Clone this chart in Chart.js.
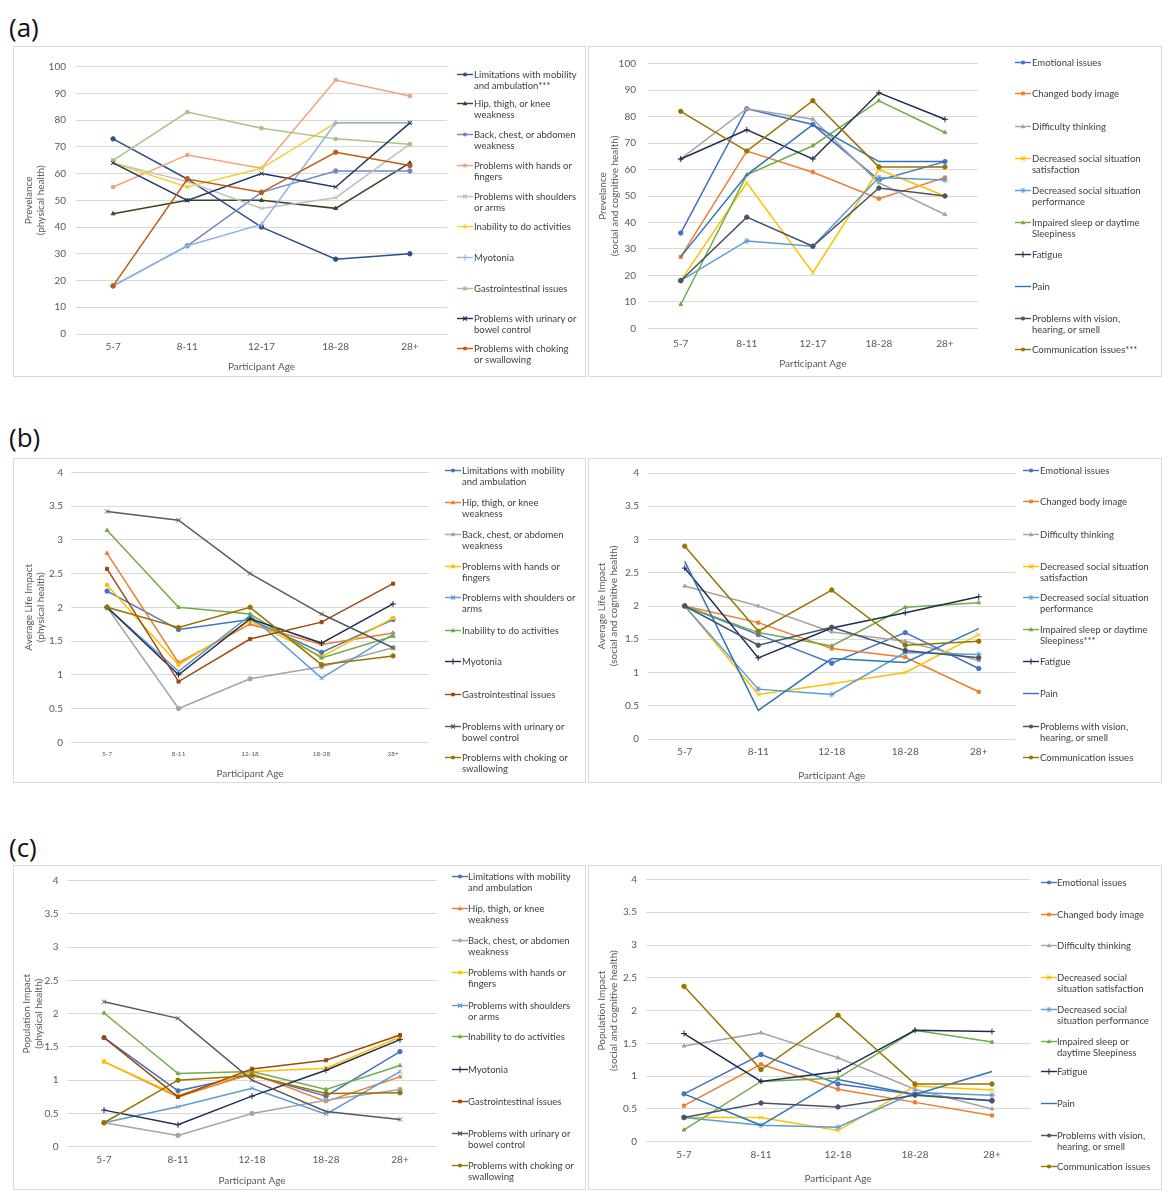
<!DOCTYPE html>
<html><head><meta charset="utf-8">
<script src="https://cdn.jsdelivr.net/npm/chart.js@4.4.1/dist/chart.umd.min.js"></script>
<style>
html,body{margin:0;padding:0;background:#fff;}
body{width:1174px;height:1200px;position:relative;overflow:hidden;font-family:Lato,'Open Sans',sans-serif;}
.panel{position:absolute;border:1px solid #d9d9d9;box-sizing:border-box;}
canvas{position:absolute;}
.lab{position:absolute;font-size:26px;color:#111;font-family:'Open Sans',sans-serif;line-height:30px;}
.leg{position:absolute;font-size:9.5px;color:#404040;line-height:11px;white-space:nowrap;}
.mk{position:absolute;line-height:0;font-size:0;}
.mk svg{display:block;}
</style>
</head><body>
<div class="lab" style="left:9px;top:12px">(a)</div>
<div class="lab" style="left:9px;top:422px">(b)</div>
<div class="lab" style="left:9px;top:832px">(c)</div>
<script>
// ---------- data ----------
const agesA = ['5-7', '8-11', '12-17', '18-28', '28+'];
const agesBC = ['5-7', '8-11', '12-18', '18-28', '28+'];

// (a) left: prevalence, physical health
const aL_limitations = [73, 58, 40, 28, 30];
const aL_hip = [45, 50, 50, 47, 64];
const aL_back = [18, 33, 53, 61, 61];
const aL_hands = [55, 67, 62, 95, 89];
const aL_shoulders = [64, 57, 47, 51, 71];
const aL_inability = [64, 55, 62, 79, 79];
const aL_myotonia = [18, 33, 41, 79, 79];
const aL_gi = [65, 83, 77, 73, 71];
const aL_urinary = [64, 50, 60, 55, 79];
const aL_choking = [18, 58, 53, 68, 63];

// (a) right: prevalence, social and cognitive health
const aR_emotional = [36, 83, 77, 56, 63];
const aR_body = [27, 67, 59, 49, 57];
const aR_thinking = [64, 83, 79, 55, 43];
const aR_satisfaction = [18, 55, 21, 60, 50];
const aR_performance = [18, 33, 31, 57, 56];
const aR_sleep = [9, 58, 69, 86, 74];
const aR_fatigue = [64, 75, 64, 89, 79];
const aR_pain = [27, 58, 77, 63, 63];
const aR_vision = [18, 42, 31, 53, 50];
const aR_communication = [82, 67, 86, 61, 61];

// (b) left: average life impact, physical health
const bL_limitations = [2.24, 1.67, 1.82, 1.33, 1.82];
const bL_hip = [2.8, 1.18, 1.75, 1.45, 1.62];
const bL_back = [2.0, 0.5, 0.94, 1.12, 1.4];
const bL_hands = [2.33, 1.15, 1.8, 1.27, 1.84];
const bL_shoulders = [2.0, 1.05, 1.88, 0.95, 1.6];
const bL_inability = [3.14, 2.0, 1.9, 1.25, 1.57];
const bL_myotonia = [2.0, 1.0, 1.83, 1.47, 2.05];
const bL_gi = [2.57, 0.9, 1.53, 1.78, 2.35];
const bL_urinary = [3.42, 3.29, 2.5, 1.9, 1.4];
const bL_choking = [2.0, 1.7, 2.0, 1.15, 1.28];

// (b) right: average life impact, social and cognitive health
const bR_emotional = [2.0, 1.57, 1.14, 1.6, 1.06];
const bR_body = [2.0, 1.75, 1.36, 1.23, 0.71];
const bR_thinking = [2.3, 2.0, 1.61, 1.47, 1.18];
const bR_satisfaction = [2.0, 0.67, 0.83, 1.0, 1.57];
const bR_performance = [2.0, 0.75, 0.67, 1.3, 1.27];
const bR_sleep = [2.0, 1.6, 1.4, 1.98, 2.05];
const bR_fatigue = [2.57, 1.22, 1.67, 1.9, 2.14];
const bR_pain = [2.67, 0.43, 1.21, 1.15, 1.66];
const bR_vision = [2.0, 1.41, 1.68, 1.33, 1.22];
const bR_communication = [2.9, 1.62, 2.24, 1.41, 1.47];

// (c) left: population impact, physical health
const cL_limitations = [1.64, 0.84, 1.08, 0.76, 1.43];
const cL_hip = [1.28, 0.75, 1.1, 0.68, 1.05];
const cL_back = [0.36, 0.17, 0.5, 0.7, 0.86];
const cL_hands = [1.28, 0.77, 1.13, 1.18, 1.65];
const cL_shoulders = [0.36, 0.6, 0.88, 0.49, 1.13];
const cL_inability = [2.01, 1.1, 1.13, 0.86, 1.22];
const cL_myotonia = [0.55, 0.33, 0.76, 1.15, 1.61];
const cL_gi = [1.64, 0.75, 1.17, 1.3, 1.68];
const cL_urinary = [2.18, 1.93, 1.0, 0.53, 0.41];
const cL_choking = [0.36, 1.0, 1.07, 0.8, 0.81];

// (c) right: population impact, social and cognitive health
const cR_emotional = [0.73, 1.33, 0.88, 0.72, 0.62];
const cR_body = [0.55, 1.18, 0.8, 0.6, 0.4];
const cR_thinking = [1.46, 1.66, 1.28, 0.8, 0.5];
const cR_satisfaction = [0.37, 0.37, 0.17, 0.85, 0.79];
const cR_performance = [0.37, 0.25, 0.22, 0.75, 0.71];
const cR_sleep = [0.18, 0.92, 0.97, 1.7, 1.52];
const cR_fatigue = [1.65, 0.92, 1.07, 1.7, 1.68];
const cR_pain = [0.73, 0.25, 0.95, 0.72, 1.07];
const cR_vision = [0.37, 0.59, 0.53, 0.71, 0.63];
const cR_communication = [2.37, 1.1, 1.93, 0.88, 0.88];

// series names (legend lines)
const aL_names = [
  ['Limitations with mobility', 'and ambulation***'], ['Hip, thigh, or knee', 'weakness'],
  ['Back, chest, or abdomen', 'weakness'], ['Problems with hands or', 'fingers'],
  ['Problems with shoulders', 'or arms'], ['Inability to do activities'], ['Myotonia'],
  ['Gastrointestinal issues'], ['Problems with urinary or', 'bowel control'],
  ['Problems with choking', 'or swallowing']];
const bL_names = [
  ['Limitations with mobility', 'and ambulation'], ['Hip, thigh, or knee', 'weakness'],
  ['Back, chest, or abdomen', 'weakness'], ['Problems with hands or', 'fingers'],
  ['Problems with shoulders or', 'arms'], ['Inability to do activities'], ['Myotonia'],
  ['Gastrointestinal issues'], ['Problems with urinary or', 'bowel control'],
  ['Problems with choking or', 'swallowing']];
const cL_names = [
  ['Limitations with mobility', 'and ambulation'], ['Hip, thigh, or knee', 'weakness'],
  ['Back, chest, or abdomen', 'weakness'], ['Problems with hands or', 'fingers'],
  ['Problems with shoulders', 'or arms'], ['Inability to do activities'], ['Myotonia'],
  ['Gastrointestinal issues'], ['Problems with urinary or', 'bowel control'],
  ['Problems with choking or', 'swallowing']];
const aR_names = [
  ['Emotional issues'], ['Changed body image'], ['Difficulty thinking'],
  ['Decreased social situation', 'satisfaction'], ['Decreased social situation', 'performance'],
  ['Impaired sleep or daytime', 'Sleepiness'], ['Fatigue'], ['Pain'],
  ['Problems with vision,', 'hearing, or smell'], ['Communication issues***']];
const bR_names = [
  ['Emotional issues'], ['Changed body image'], ['Difficulty thinking'],
  ['Decreased social situation', 'satisfaction'], ['Decreased social situation', 'performance'],
  ['Impaired sleep or daytime', 'Sleepiness***'], ['Fatigue'], ['Pain'],
  ['Problems with vision,', 'hearing, or smell'], ['Communication issues']];
const cR_names = [
  ['Emotional issues'], ['Changed body image'], ['Difficulty thinking'],
  ['Decreased social', 'situation satisfaction'], ['Decreased social', 'situation performance'],
  ['Impaired sleep or', 'daytime Sleepiness'], ['Fatigue'], ['Pain'],
  ['Problems with vision,', 'hearing, or smell'], ['Communication issues']];

// ---------- styles ----------
const colA_L = ['#2E4D8C', '#2D4A22', '#6F86C2', '#F4A27A', '#BFBFBF', '#F2CF3A', '#8DB4E2', '#A3C585', '#1F3864', '#C65911'];
const colL = ['#4472C4', '#ED7D31', '#A5A5A5', '#FFC000', '#5B9BD5', '#70AD47', '#1F2D4F', '#9E480E', '#595959', '#997300'];
const colR = ['#4472C4', '#ED7D31', '#A5A5A5', '#FFC000', '#5B9BD5', '#70AD47', '#1F2D4F', '#2E75B6', '#46536B', '#997300'];
const mkL = ['circle', 'triangle', 'circle', 'rect', 'crossRot', 'triangle', 'cross', 'rect', 'crossRot', 'circle'];
const mkR = ['circle', 'rect', 'triangle', 'crossRot', 'star', 'triangle', 'cross', false, 'circle', 'circle'];

const FONT = "Lato, 'Open Sans', sans-serif";
const TXT = '#595959';

function markerSVG(color, style) {
  let s = `<svg width="16" height="9" viewBox="0 0 16 9"><line x1="0" y1="4.5" x2="16" y2="4.5" stroke="${color}" stroke-width="1.4"/>`;
  const c = color;
  if (style === 'circle') s += `<circle cx="8" cy="4.5" r="2" fill="${c}"/>`;
  else if (style === 'rect') s += `<rect x="6.2" y="2.7" width="3.6" height="3.6" fill="${c}"/>`;
  else if (style === 'triangle') s += `<polygon points="8,2 10.4,6.3 5.6,6.3" fill="${c}"/>`;
  else if (style === 'crossRot') s += `<path d="M6,2.5L10,6.5M10,2.5L6,6.5" stroke="${c}" stroke-width="1.1"/>`;
  else if (style === 'cross') s += `<path d="M8,1.5L8,7.5" stroke="${c}" stroke-width="1.1"/>`;
  else if (style === 'star') s += `<path d="M6,2.5L10,6.5M10,2.5L6,6.5M8,1.8L8,7.2" stroke="${c}" stroke-width="1"/>`;
  return s + '</svg>';
}

function build(p) {
  const [bl, bt, br, bb] = p.box;
  const [al, at, ar, ab] = p.area;
  const panel = document.createElement('div');
  panel.className = 'panel';
  Object.assign(panel.style, {left: bl + 'px', top: bt + 'px', width: (br - bl) + 'px', height: (bb - bt) + 'px'});
  document.body.appendChild(panel);

  const W = br - bl, H = bb - bt;
  const cv = document.createElement('canvas');
  cv.width = W; cv.height = H;
  Object.assign(cv.style, {left: bl + 'px', top: bt + 'px', width: W + 'px', height: H + 'px'});
  document.body.appendChild(cv);

  const tickFs = p.tickFs || 10;
  const titleFs = 10, titleLH = 12;
  const xFs = p.xFs || 10;

  const datasets = p.series.map((arr, i) => ({
    label: p.names[i].join(' '),
    data: arr,
    borderColor: p.colors[i],
    backgroundColor: p.colors[i],
    pointBackgroundColor: p.colors[i],
    pointBorderColor: p.colors[i],
    borderWidth: 1.5,
    pointStyle: p.markers[i] || 'circle',
    pointRadius: p.markers[i] ? (p.markers[i] === 'cross' || p.markers[i] === 'crossRot' || p.markers[i] === 'star' ? 3 : 2.2) : 0,
    pointBorderWidth: 1,
    tension: 0,
    fill: false,
    order: p.series.length - i
  }));

  new Chart(cv, {
    type: 'line',
    data: {labels: p.labels, datasets},
    options: {
      responsive: false,
      animation: false,
      devicePixelRatio: 1,
      layout: {padding: {left: 0, top: at - bt, right: br - ar, bottom: 0}},
      plugins: {legend: {display: false}, tooltip: {enabled: false}},
      scales: {
        x: {
          type: 'category', offset: true,
          grid: {display: false, drawTicks: false},
          border: {display: false},
          ticks: {color: TXT, font: {family: FONT, size: xFs}, padding: p.xLabY - ab - xFs * 0.6, maxRotation: 0, autoSkip: false},
          title: {display: true, text: 'Participant Age', color: TXT, font: {family: FONT, size: titleFs, lineHeight: titleLH / titleFs},
                  padding: {top: 0, bottom: (bb - p.xTitleY) - titleLH / 2}},
          afterFit: s => { s.width; s.height = bb - ab; }
        },
        y: {
          min: 0, max: p.ymax,
          grid: {color: '#d9d9d9', drawTicks: false, lineWidth: 1},
          border: {display: false},
          ticks: {stepSize: p.ystep, color: TXT, font: {family: FONT, size: tickFs}, padding: al - p.tickRight,
                  callback: v => String(Math.round(v * 100) / 100)},
          title: {display: true, text: p.ytitle, color: TXT, font: {family: FONT, size: titleFs, lineHeight: titleLH / titleFs},
                  padding: {top: (p.ytitleX - bl) - titleLH / 2, bottom: 0}},
          afterFit: s => { s.width = al - bl; }
        }
      }
    }
  });

  // legend (HTML text)
  p.names.forEach((lines, i) => {
    const y = p.leg.ys[i];
    const m = document.createElement('div');
    m.className = 'mk';
    m.style.left = p.leg.mx + 'px'; m.style.top = (y - 4.5) + 'px';
    m.innerHTML = markerSVG(p.colors[i], p.markers[i]);
    document.body.appendChild(m);
    const t = document.createElement('div');
    t.className = 'leg';
    t.style.left = p.leg.tx + 'px'; t.style.top = (y - 5.5) + 'px';
    t.innerHTML = lines.join('<br>');
    document.body.appendChild(t);
  });
}

const phys = 'physical health';
build({
  box: [13, 46, 586, 377], area: [76, 66.7, 447, 334],
  labels: agesA, ymax: 100, ystep: 10, tickRight: 66,
  ytitle: ['Prevelance', '(' + phys + ')'], ytitleX: 29, xLabY: 346.5, xTitleY: 367,
  series: [aL_limitations, aL_hip, aL_back, aL_hands, aL_shoulders, aL_inability, aL_myotonia, aL_gi, aL_urinary, aL_choking],
  names: aL_names, colors: colA_L, markers: mkL,
  leg: {mx: 457, tx: 474, ys: [74, 103, 134, 165, 196, 226, 257, 288, 318, 348]}
});
build({
  box: [588, 46, 1162, 377], area: [647.7, 62.7, 978, 328.3],
  labels: agesA, ymax: 100, ystep: 10, tickRight: 636,
  ytitle: ['Prevelance', '(social and cognitive health)'], ytitleX: 603, xLabY: 343.5, xTitleY: 364,
  series: [aR_emotional, aR_body, aR_thinking, aR_satisfaction, aR_performance, aR_sleep, aR_fatigue, aR_pain, aR_vision, aR_communication],
  names: aR_names, colors: colR, markers: mkR,
  leg: {mx: 1015, tx: 1032, ys: [62.7, 93.7, 126.7, 158.3, 190, 222.3, 254, 286, 318.3, 349.3]}
});
build({
  box: [13, 458, 586, 783], area: [71.3, 469.7, 428.8, 742.3],
  labels: agesBC, ymax: 4, ystep: 0.5, tickRight: 63, xFs: 6.5,
  ytitle: ['Average Life Impact', '(' + phys + ')'], ytitleX: 29, xLabY: 754, xTitleY: 773.5,
  series: [bL_limitations, bL_hip, bL_back, bL_hands, bL_shoulders, bL_inability, bL_myotonia, bL_gi, bL_urinary, bL_choking],
  names: bL_names, colors: colL, markers: mkL,
  leg: {mx: 445, tx: 462, ys: [470.7, 502.7, 534.3, 566.7, 597.7, 630, 661.7, 694.3, 726, 757.7]}
});
build({
  box: [588, 458, 1162, 783], area: [648, 469.7, 1015.5, 739],
  labels: agesBC, ymax: 4, ystep: 0.5, tickRight: 639,
  ytitle: ['Average Life Impact', '(social and cognitive health)'], ytitleX: 602, xLabY: 751.7, xTitleY: 775.7,
  series: [bR_emotional, bR_body, bR_thinking, bR_satisfaction, bR_performance, bR_sleep, bR_fatigue, bR_pain, bR_vision, bR_communication],
  names: bR_names, colors: colR, markers: mkR,
  leg: {mx: 1023, tx: 1040, ys: [470, 501.7, 534, 566, 597.3, 629.3, 661.7, 693.3, 726, 757.3]}
});
build({
  box: [13, 865, 586, 1190], area: [67, 880.7, 437, 1146.7],
  labels: agesBC, ymax: 4, ystep: 0.5, tickRight: 58.5,
  ytitle: ['Population Impact', '(' + phys + ')'], ytitleX: 27, xLabY: 1160, xTitleY: 1180.7,
  series: [cL_limitations, cL_hip, cL_back, cL_hands, cL_shoulders, cL_inability, cL_myotonia, cL_gi, cL_urinary, cL_choking],
  names: cL_names, colors: colL, markers: mkL,
  leg: {mx: 452, tx: 468, ys: [876, 908.3, 940, 972.3, 1005, 1036.7, 1069, 1101, 1133.3, 1165]}
});
build({
  box: [588, 865, 1162, 1190], area: [645.5, 876, 1030.5, 1141.7],
  labels: agesBC, ymax: 4, ystep: 0.5, tickRight: 637,
  ytitle: ['Population Impact', '(social and cognitive health)'], ytitleX: 602, xLabY: 1155, xTitleY: 1179,
  series: [cR_emotional, cR_body, cR_thinking, cR_satisfaction, cR_performance, cR_sleep, cR_fatigue, cR_pain, cR_vision, cR_communication],
  names: cR_names, colors: colR, markers: mkR,
  leg: {mx: 1041, tx: 1057, ys: [882.3, 914, 945.7, 977.3, 1009.3, 1041, 1071.7, 1103.3, 1135, 1166]}
});
</script>
</body></html>
